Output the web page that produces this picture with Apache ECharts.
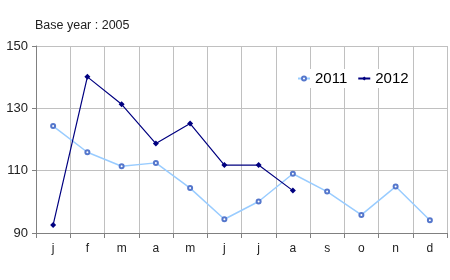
<!DOCTYPE html>
<html><head><meta charset="utf-8">
<script src="https://cdn.jsdelivr.net/npm/echarts@6/dist/echarts.min.js"></script>
<style>html,body{margin:0;padding:0;background:#fff}#c{width:450px;height:280px}</style>
</head><body><div id="c"></div>
<script>
var categories = ['j','f','m','a','m','j','j','a','s','o','n','d'];
var s2011 = [124.3,115.9,111.4,112.5,104.4,94.4,100.1,109.0,103.3,95.8,104.9,94.1];
var s2012 = [92.6,140.1,131.3,118.7,125.1,111.8,111.8,103.6];
var yTicks = [90,110,130,150];

var chart = echarts.init(document.getElementById('c'), null, {renderer:'canvas'});
chart.setOption({
  animation:false,
  backgroundColor:'#fff',
  title:{text:'Base year : 2005',left:30,top:14,textStyle:{fontFamily:'Liberation Sans, Arial',fontSize:12.5,fontWeight:'normal',color:'#222'}},
  legend:{
    left:293,top:69,itemGap:10,itemWidth:12,itemHeight:5,
    backgroundColor:'#fff',padding:[2,4],
    textStyle:{fontFamily:'Liberation Sans, Arial',fontSize:15,color:'#000'},
    data:['2011','2012']
  },
  grid:{left:36,right:3,top:46,bottom:47,containLabel:false},
  xAxis:{
    type:'category',data:categories,boundaryGap:true,
    axisLine:{lineStyle:{color:'#808080'}},
    axisTick:{show:true,length:5,lineStyle:{color:'#808080'},interval:0},
    axisLabel:{fontFamily:'Liberation Sans, Arial',fontSize:12,color:'#222',margin:10},
    splitLine:{show:true,interval:0,lineStyle:{color:'#c0c0c0'}}
  },
  yAxis:{
    type:'value',min:90,max:150,interval:20,
    axisLine:{show:true,lineStyle:{color:'#808080'}},
    axisTick:{show:true,length:4,lineStyle:{color:'#808080'}},
    axisLabel:{fontFamily:'Liberation Sans, Arial',fontSize:13,color:'#222',margin:8},
    splitLine:{show:true,lineStyle:{color:'#c0c0c0'}}
  },
  series:[
    {name:'2011',type:'line',data:s2011,symbol:'emptyCircle',symbolSize:4,
     lineStyle:{color:'#99ccff',width:1.5},itemStyle:{color:'#5577cc',borderColor:'#5577cc',borderWidth:1}},
    {name:'2012',type:'line',data:s2012,symbol:'diamond',symbolSize:6,
     lineStyle:{color:'#000080',width:1.2},itemStyle:{color:'#000080'}}
  ]
});
</script></body></html>
